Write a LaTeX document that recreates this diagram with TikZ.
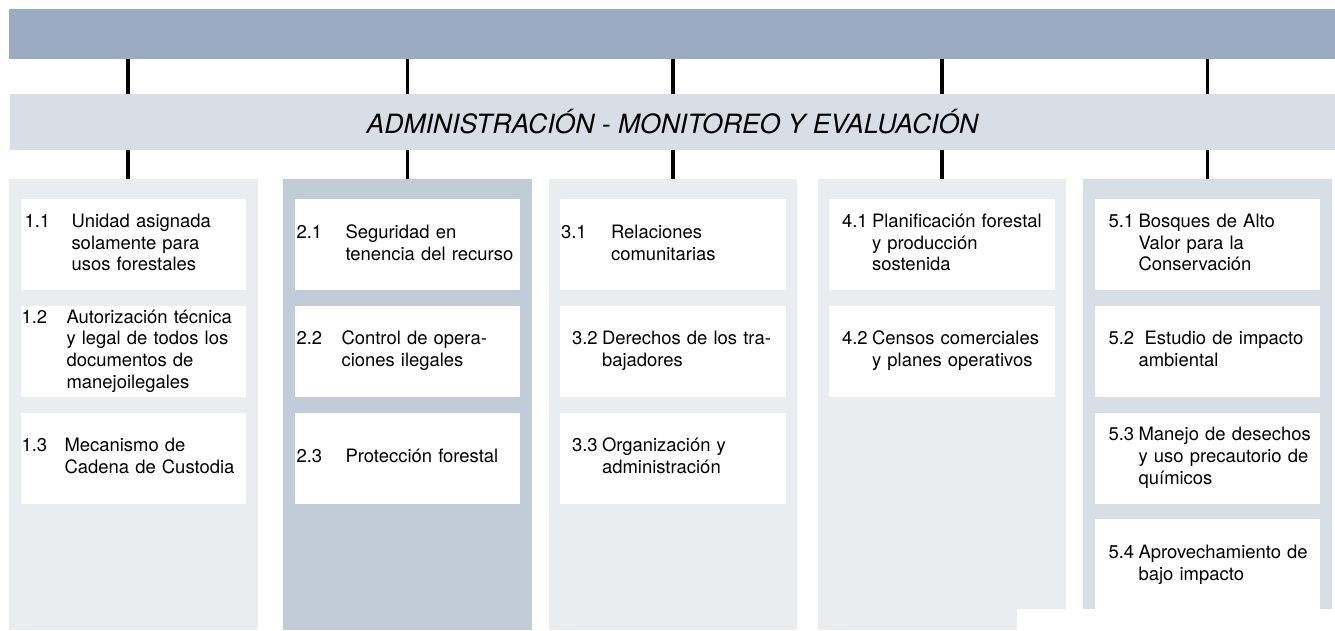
\documentclass[tikz,border=0pt]{standalone}
\usepackage{fontspec}
\setmainfont{TeX Gyre Heros}
\usepackage{tikz}
\usetikzlibrary{positioning}

\definecolor{barblue}{HTML}{9AAAC1}
\definecolor{paleblue}{HTML}{D7DEE6}
\definecolor{palegray}{HTML}{EBECF0}
\definecolor{midblue}{HTML}{C2CCD9}

\newlength{\px}
\setlength{\px}{0.02cm}
% number, then the text hanging behind it
\newcommand{\entry}[4]{\begin{tabular}{@{\hspace{#1\px}}p{#2\px}@{}l@{}}#3 & #4\end{tabular}}

\begin{document}
\begin{tikzpicture}
[
    x = 0.02cm, y = -0.02cm,
    bar/.style = {inner sep = 0, minimum width = 26.52cm},
    column/.style = {inner sep = 0, minimum width = 4.98cm, anchor = north},
    item/.style = {fill = white, inner sep = 0, minimum height = 1.82cm, text width = 4.52cm,
                   align = left, font = \fontsize{10.5}{12.4}\selectfont},
    link/.style = {line width = 1.9pt},
    node distance = 0.3cm,
]
\useasboundingbox (0,0) rectangle (1335,630);

\node[bar, fill = barblue, minimum height = 1cm] (top) at (672,34) {};
\node[bar, fill = paleblue, minimum height = 1.12cm, font = \fontsize{15.1}{18}\selectfont\itshape]
    (mid) at (672.5,122) {ADMINISTRACIÓN - MONITOREO Y EVALUACIÓN};

\node[column, fill = palegray, minimum height = 9.02cm] (c1) at (133.5,179) {};
\node[column, fill = midblue, minimum height = 9.02cm] (c2) at (407.5,179) {};
\node[column, fill = palegray, minimum height = 9.02cm] (c3) at (673,179) {};
\node[column, fill = palegray, minimum height = 9.02cm] (c4) at (942,179) {};
\node[column, fill = paleblue, minimum height = 8.6cm] (c5) at (1207.5,179) {};
\fill[white] (1017,609) rectangle (1335,630);

% links
\draw[link] ([xshift = -0.11cm]top.south -| c1.north) -- ([xshift = -0.11cm]mid.north -| c1.north);
\draw[link] ([xshift = -0.11cm]mid.south -| c1.north) -- ([xshift = -0.11cm]c1.north);
\draw[link] (top.south -| c2.north) -- (mid.north -| c2.north);
\draw[link] (mid.south -| c2.north) -- (c2.north);
\draw[link] (top.south -| c3.north) -- (mid.north -| c3.north);
\draw[link] (mid.south -| c3.north) -- (c3.north);
\draw[link] (top.south -| c4.north) -- (mid.north -| c4.north);
\draw[link] (mid.south -| c4.north) -- (c4.north);
\draw[link] (top.south -| c5.north) -- (mid.north -| c5.north);
\draw[link] (mid.south -| c5.north) -- (c5.north);

% column 1
\node[item, below = 0.4cm of c1.north] (b11) {\entry{4}{47}{1.1}{Unidad asignada\\ & solamente para\\ & usos forestales}};
\node[item, below = of b11] (b12) {\entry{1}{45}{1.2}{Autorización técnica\\ & y legal de todos los\\ & documentos de\\ & manejoilegales}};
\node[item, below = of b12] (b13) {\entry{1}{43}{1.3}{Mecanismo de\\ & Cadena de Custodia}};

% column 2
\node[item, below = 0.4cm of c2.north] (b21) {\entry{2}{49}{2.1}{Seguridad en\\ & tenencia del recurso}};
\node[item, below = of b21] (b22) {\entry{2}{45}{2.2}{Control de opera-\\ & ciones ilegales}};
\node[item, below = of b22] (b23) {\entry{2}{49}{2.3}{Protección forestal}};

% column 3
\node[item, below = 0.4cm of c3.north] (b31) {\entry{1}{50}{3.1}{Relaciones\\ & comunitarias}};
\node[item, below = of b31] (b32) {\entry{12}{30}{3.2}{Derechos de los tra-\\ & bajadores}};
\node[item, below = of b32] (b33) {\entry{12}{30}{3.3}{Organización y\\ & administración}};

% column 4
\node[item, below = 0.4cm of c4.north] (b41) {\entry{13}{30}{4.1}{Planificación forestal\\ & y producción\\ & sostenida}};
\node[item, below = of b41] (b42) {\entry{13}{30}{4.2}{Censos comerciales\\ & y planes operativos}};

% column 5
\node[item, below = 0.4cm of c5.north] (b51) {\entry{14}{30}{5.1}{Bosques de Alto\\ & Valor para la\\ & Conservación}};
\node[item, below = of b51] (b52) {\entry{14}{30}{5.2}{\ Estudio de impacto\\ & ambiental}};
\node[item, below = of b52] (b53) {\entry{14}{30}{5.3}{Manejo de desechos\\ & y uso precautorio de\\ & químicos}};
\node[item, below = of b53] (b54) {\entry{14}{30}{5.4}{Aprovechamiento de\\ & bajo impacto}};
\end{tikzpicture}
\end{document}
